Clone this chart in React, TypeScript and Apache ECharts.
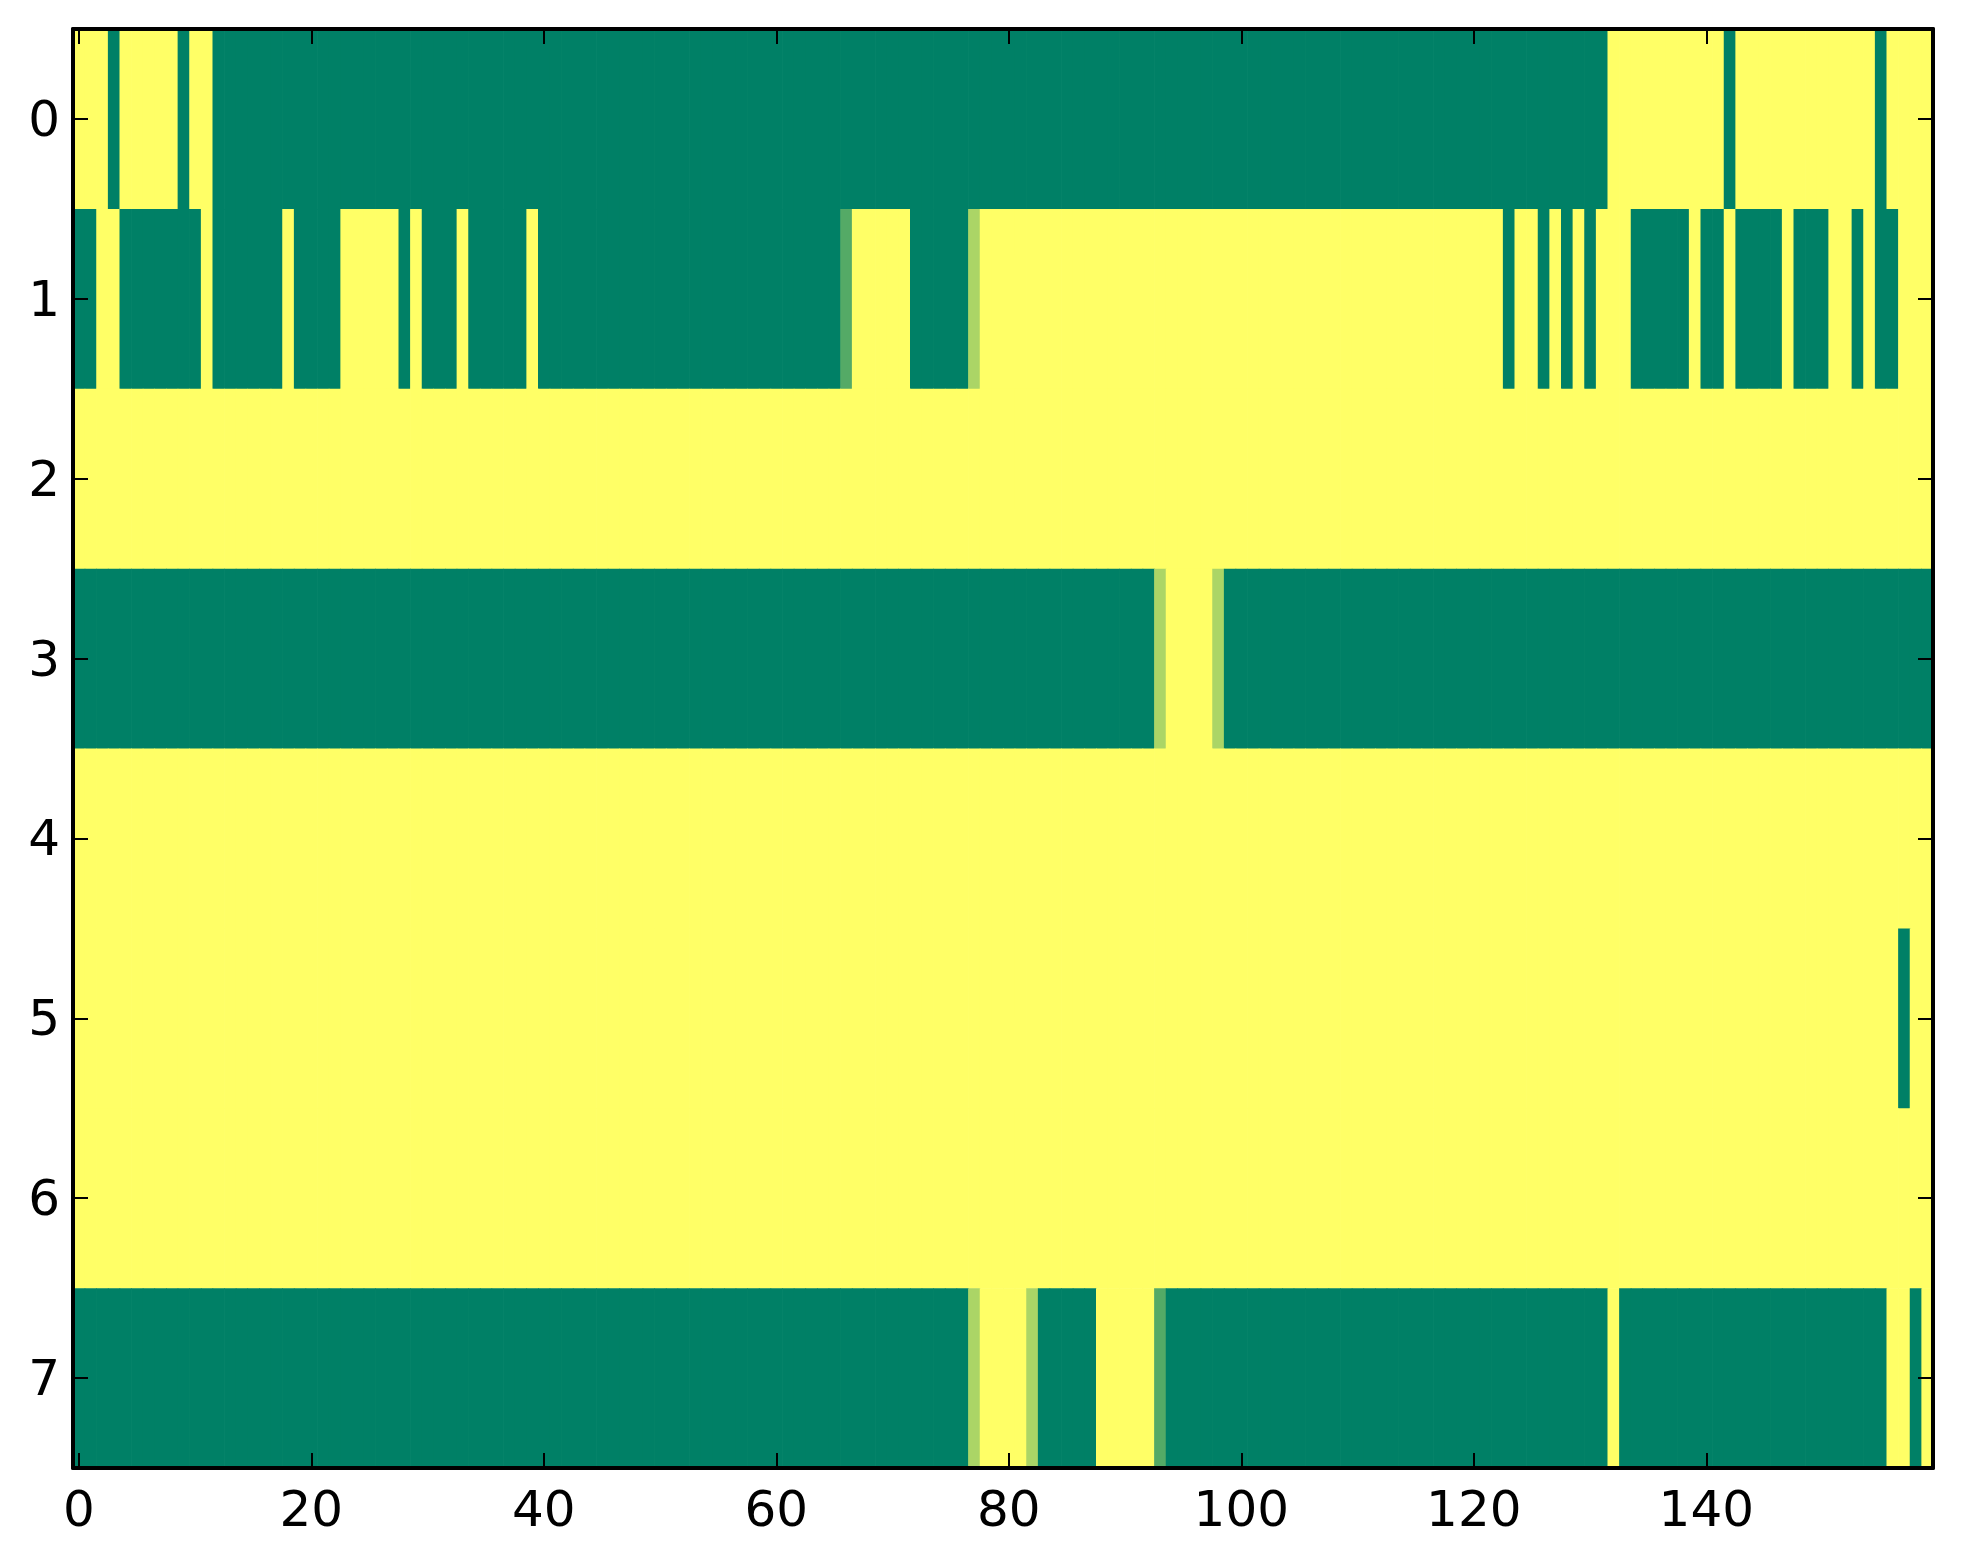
import React, { useEffect, useRef } from "react";
import * as echarts from "echarts";

// Cell codes: "0" = 0 (green), "1" = 1 (yellow), "M" = 0.33, "L" = 0.67
const codeValue: Record<string, number> = { "0": 0, "1": 1, M: 0.33, L: 0.67 };

const row0 =
  "1110111110" + "1100000000" + "0000000000" + "0000000000" +
  "0000000000" + "0000000000" + "0000000000" + "0000000000" +
  "0000000000" + "0000000000" + "0000000000" + "0000000000" +
  "0000000000" + "0011111111" + "1101111111" + "1111101111";
const row1 =
  "0011000000" + "0100000010" + "0001111101" + "0001000001" +
  "0000000000" + "0000000000" + "000000M111" + "1100000L11" +
  "1111111111" + "1111111111" + "1111111111" + "1111111111" +
  "1110110101" + "0111000001" + "0010000100" + "0110100111";
const row2 =
  "1111111111" + "1111111111" + "1111111111" + "1111111111" +
  "1111111111" + "1111111111" + "1111111111" + "1111111111" +
  "1111111111" + "1111111111" + "1111111111" + "1111111111" +
  "1111111111" + "1111111111" + "1111111111" + "1111111111";
const row3 =
  "0000000000" + "0000000000" + "0000000000" + "0000000000" +
  "0000000000" + "0000000000" + "0000000000" + "0000000000" +
  "0000000000" + "000L1111L0" + "0000000000" + "0000000000" +
  "0000000000" + "0000000000" + "0000000000" + "0000000000";
const row4 =
  "1111111111" + "1111111111" + "1111111111" + "1111111111" +
  "1111111111" + "1111111111" + "1111111111" + "1111111111" +
  "1111111111" + "1111111111" + "1111111111" + "1111111111" +
  "1111111111" + "1111111111" + "1111111111" + "1111111111";
const row5 =
  "1111111111" + "1111111111" + "1111111111" + "1111111111" +
  "1111111111" + "1111111111" + "1111111111" + "1111111111" +
  "1111111111" + "1111111111" + "1111111111" + "1111111111" +
  "1111111111" + "1111111111" + "1111111111" + "1111111011";
const row6 =
  "1111111111" + "1111111111" + "1111111111" + "1111111111" +
  "1111111111" + "1111111111" + "1111111111" + "1111111111" +
  "1111111111" + "1111111111" + "1111111111" + "1111111111" +
  "1111111111" + "1111111111" + "1111111111" + "1111111111";
const row7 =
  "0000000000" + "0000000000" + "0000000000" + "0000000000" +
  "0000000000" + "0000000000" + "0000000000" + "0000000L11" +
  "11L0000011" + "111M000000" + "0000000000" + "0000000000" +
  "0000000000" + "0010000000" + "0000000000" + "0000001101";

const rows = [row0, row1, row2, row3, row4, row5, row6, row7];
const yCategories = ["0", "1", "2", "3", "4", "5", "6", "7"];
const xCategories = Array.from({ length: row0.length }, (_, i) => String(i));
const xTickLabels = ["0", "20", "40", "60", "80", "100", "120", "140"];

const FONT = "DejaVu Sans";

export default function App() {
  const ref = useRef<HTMLDivElement>(null);

  useEffect(() => {
    if (!ref.current) return;
    const chart = echarts.init(ref.current, undefined, { renderer: "svg" });

    const data: number[][] = [];
    rows.forEach((r, yi) => {
      for (let xi = 0; xi < r.length; xi++) {
        data.push([xi, yi, codeValue[r[xi]]]);
      }
    });

    const xTickFn = (idx: number) => xTickLabels.indexOf(xCategories[idx]) >= 0;

    const axisLine = { show: true, onZero: false, lineStyle: { color: "#000", width: 4 } };
    const tickStyle = { color: "#000", width: 2 };

    chart.setOption({
      animation: false,
      backgroundColor: "#fff",
      grid: { left: 73, right: 30, top: 29, bottom: 96, containLabel: false },
      visualMap: {
        show: false,
        type: "continuous",
        dimension: 2,
        min: 0,
        max: 1,
        seriesIndex: 0,
        inRange: { color: ["#008066", "#ffff66"] },
      },
      xAxis: [
        {
          type: "category",
          data: xCategories,
          position: "bottom",
          z: 10,
          axisLine,
          axisTick: { show: true, inside: true, length: 15, alignWithLabel: true, interval: xTickFn, lineStyle: tickStyle },
          axisLabel: { show: true, interval: xTickFn, fontSize: 50, fontFamily: FONT, color: "#000", margin: 16 },
          splitLine: { show: false },
        },
        {
          type: "category",
          data: xCategories,
          position: "top",
          z: 10,
          axisLine,
          axisTick: { show: true, inside: true, length: 15, alignWithLabel: true, interval: xTickFn, lineStyle: tickStyle },
          axisLabel: { show: false },
          splitLine: { show: false },
        },
      ],
      yAxis: [
        {
          type: "category",
          data: yCategories,
          inverse: true,
          position: "left",
          z: 10,
          axisLine,
          axisTick: { show: true, inside: true, length: 15, alignWithLabel: true, lineStyle: tickStyle },
          axisLabel: { show: true, fontSize: 50, fontFamily: FONT, color: "#000", margin: 13 },
          splitLine: { show: false },
        },
        {
          type: "category",
          data: yCategories,
          inverse: true,
          position: "right",
          z: 10,
          axisLine,
          axisTick: { show: true, inside: true, length: 15, alignWithLabel: true, lineStyle: tickStyle },
          axisLabel: { show: false },
          splitLine: { show: false },
        },
      ],
      series: [
        {
          type: "custom",
          xAxisIndex: 0,
          yAxisIndex: 0,
          encode: { x: 0, y: 1 },
          data,
          renderItem: (params: any, api: any) => {
            const c = api.coord([api.value(0), api.value(1)]);
            const s = api.size([1, 1]);
            return {
              type: "rect",
              shape: { x: c[0] - s[0] / 2, y: c[1] - s[1] / 2, width: s[0] + 0.7, height: s[1] + 0.7 },
              style: { fill: api.visual("color") },
            };
          },
        },
      ],
    });

    return () => chart.dispose();
  }, []);

  return (
    <div
      ref={ref}
      style={{ position: "fixed", left: 0, top: 0, width: 1963, height: 1564, background: "#fff" }}
    />
  );
}
